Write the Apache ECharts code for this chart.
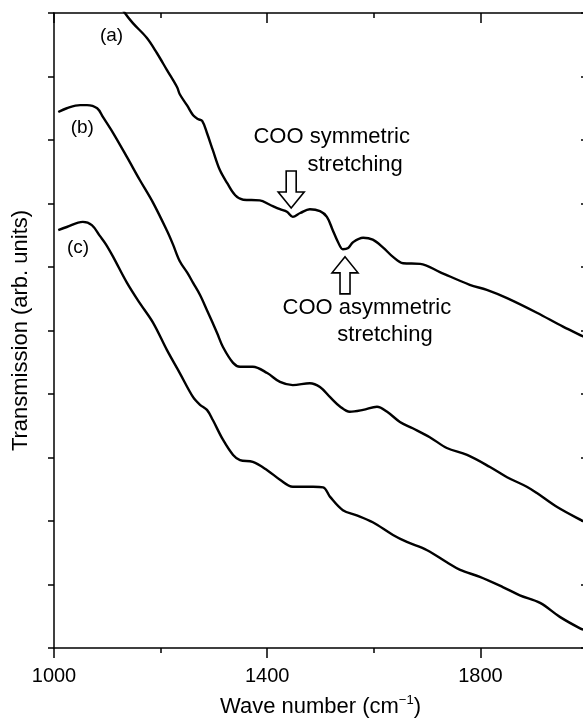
<!DOCTYPE html>
<html><head><meta charset="utf-8">
<script src="https://cdn.jsdelivr.net/npm/echarts@6/dist/echarts.min.js"></script>
<style>html,body{margin:0;padding:0;background:#fff}#c{width:583px;height:721px}</style>
</head><body><div id="c"></div>
<script>
// Wave number (cm^-1), transmission (arb. units)
const curveA = [[1124,10.13],[1133,10.0],[1148,9.84],[1174,9.61],[1193,9.37],[1212,9.10],[1231,8.83],[1236,8.72],[1250,8.54],[1261,8.39],[1270,8.33],[1278,8.30],[1287,8.11],[1298,7.84],[1311,7.53],[1325,7.32],[1340,7.13],[1355,7.06],[1386,7.05],[1405,6.98],[1424,6.91],[1437,6.87],[1448,6.79],[1462,6.85],[1480,6.91],[1499,6.88],[1512,6.79],[1523,6.58],[1533,6.39],[1542,6.28],[1552,6.30],[1561,6.39],[1580,6.46],[1598,6.43],[1617,6.31],[1636,6.16],[1655,6.06],[1687,6.05],[1724,5.92],[1780,5.72],[1812,5.64],[1850,5.51],[1906,5.28],[1955,5.06],[1992,4.91],[2000,4.88]];
const curveB = [[1008,8.44],[1024,8.50],[1049,8.55],[1062,8.55],[1081,8.50],[1092,8.36],[1111,8.11],[1137,7.73],[1161,7.37],[1186,7.01],[1212,6.57],[1223,6.36],[1236,6.09],[1250,5.91],[1261,5.75],[1274,5.56],[1287,5.32],[1306,4.96],[1317,4.74],[1336,4.49],[1349,4.43],[1373,4.43],[1400,4.33],[1424,4.19],[1448,4.14],[1480,4.17],[1499,4.11],[1518,3.95],[1537,3.80],[1555,3.72],[1580,3.75],[1606,3.80],[1625,3.72],[1649,3.56],[1673,3.46],[1705,3.32],[1737,3.15],[1775,3.04],[1818,2.85],[1850,2.69],[1887,2.54],[1906,2.44],[1944,2.22],[1992,2.00],[2000,1.97]];
const curveC = [[1008,6.58],[1024,6.63],[1054,6.71],[1071,6.66],[1086,6.49],[1098,6.35],[1111,6.16],[1137,5.75],[1161,5.43],[1186,5.12],[1212,4.69],[1236,4.33],[1261,3.95],[1274,3.83],[1287,3.75],[1298,3.59],[1317,3.28],[1336,3.04],[1349,2.96],[1373,2.93],[1400,2.80],[1424,2.65],[1448,2.54],[1486,2.54],[1505,2.53],[1518,2.38],[1542,2.17],[1568,2.09],[1598,1.98],[1636,1.78],[1662,1.67],[1700,1.54],[1737,1.35],[1762,1.23],[1799,1.12],[1842,0.96],[1874,0.83],[1912,0.71],[1949,0.49],[1987,0.31],[2000,0.27]];
const xLabelTicks = [1000, 1400, 1800];
const curveLabels = [{text:'(a)', wn:1108, val:9.64},{text:'(b)', wn:1053, val:8.20},{text:'(c)', wn:1045, val:6.31}];
const noteTexts = [
  {text:'COO symmetric', wn:1521, val:8.05},
  {text:'stretching', wn:1565, val:7.61},
  {text:'COO asymmetric', wn:1587, val:5.35},
  {text:'stretching', wn:1621, val:4.93}
];
const arrows = [{wn:1445, val:6.93, dir:'down'},{wn:1546, val:6.16, dir:'up'}];

const FONT = 'Liberation Sans, Arial, sans-serif';
const chart = echarts.init(document.getElementById('c'), null, {renderer:'canvas'});
const axisLine = {show:true, lineStyle:{color:'#000', width:1.5}};
const noLabel = {show:false};
const opt = {
  animation:false,
  backgroundColor:'#fff',
  grid:{left:54, top:13, width:533, height:635, containLabel:false, outerBoundsMode:'none'},
  xAxis:[
    {type:'value', position:'bottom', min:1000, max:2000, interval:200,
     axisLine:axisLine, axisTick:{show:true, inside:false, length:5, lineStyle:{color:'#000', width:1.5}},
     splitLine:{show:false},
     axisLabel:{show:true, margin:18, fontSize:20, color:'#000', fontFamily:FONT,
       formatter:v => xLabelTicks.indexOf(v) >= 0 ? String(v) : ''},
     name:'Wave number (cm{sup|−1})', nameLocation:'middle', nameGap:46,
     nameTextStyle:{fontSize:22, color:'#000', fontFamily:FONT, lineHeight:26,
       rich:{sup:{fontSize:13, lineHeight:13, verticalAlign:'top', color:'#000', fontFamily:FONT}}}},
    {type:'value', position:'bottom', min:1000, max:2000, interval:400,
     axisLine:{show:false}, axisTick:{show:true, inside:false, length:10, lineStyle:{color:'#000', width:1.5}},
     splitLine:{show:false}, axisLabel:noLabel},
    {type:'value', position:'top', min:1000, max:2000, interval:200,
     axisLine:axisLine, axisTick:{show:true, inside:true, length:5, lineStyle:{color:'#000', width:1.5}},
     splitLine:{show:false}, axisLabel:noLabel},
    {type:'value', position:'top', min:1000, max:2000, interval:400,
     axisLine:{show:false}, axisTick:{show:true, inside:true, length:10, lineStyle:{color:'#000', width:1.5}},
     splitLine:{show:false}, axisLabel:noLabel}
  ],
  yAxis:[
    {type:'value', position:'left', min:0, max:10, interval:1,
     axisLine:axisLine, axisTick:{show:true, inside:false, length:6, lineStyle:{color:'#000', width:1.5}},
     splitLine:{show:false}, axisLabel:noLabel,
     name:'Transmission (arb. units)', nameLocation:'middle', nameGap:22,
     nameTextStyle:{fontSize:22, color:'#000', fontFamily:FONT}},
    {type:'value', position:'right', min:0, max:10, interval:1,
     axisLine:axisLine, axisTick:{show:true, inside:true, length:6, lineStyle:{color:'#000', width:1.5}},
     splitLine:{show:false}, axisLabel:noLabel}
  ],
  series:[curveA, curveB, curveC].map(d => ({
    type:'line', data:d, xAxisIndex:0, yAxisIndex:0, showSymbol:false, symbol:'none',
    smooth:0.35, clip:true, lineStyle:{color:'#000', width:2.4}
  }))
};
chart.setOption(opt);

const g = [];
const toPx = (wn, val) => chart.convertToPixel({gridIndex:0}, [wn, val]);
curveLabels.concat(noteTexts).forEach((t, i) => {
  const p = toPx(t.wn, t.val);
  g.push({type:'text', x:p[0], y:p[1], z:100,
    style:{text:t.text, fill:'#000', font:(i < 3 ? '19px ' : '22px ') + FONT,
      align:'center', verticalAlign:'middle', textAlign:'center', textVerticalAlign:'middle'}});
});
arrows.forEach(a => {
  const p = toPx(a.wn, a.val);
  const s = a.dir === 'down' ? -1 : 1;
  const pts = [[0,0],[-13,16*s],[-5,16*s],[-5,37*s],[5,37*s],[5,16*s],[13,16*s]]
    .map(q => [p[0] + q[0], p[1] + q[1]]);
  g.push({type:'polygon', z:100, shape:{points:pts}, style:{fill:'#fff', stroke:'#000', lineWidth:1.6}});
});
chart.setOption({graphic:g});
</script>
</body></html>
